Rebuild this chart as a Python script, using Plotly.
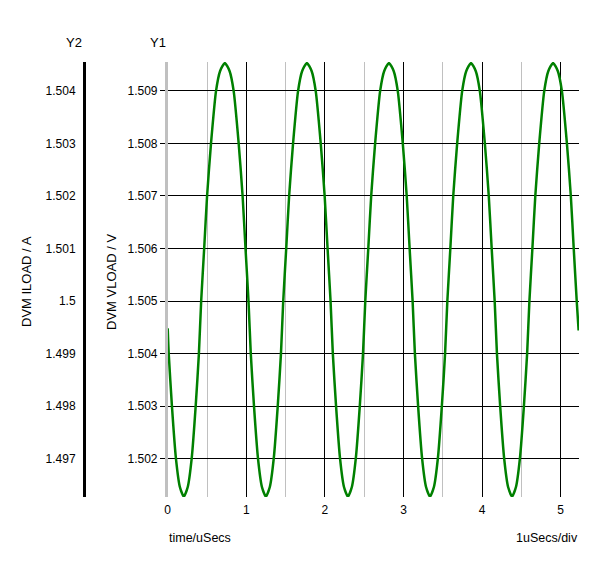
import plotly.graph_objects as go

# ---- data ----
time_us = [
    0.000, 0.013, 0.054, 0.105, 0.155, 0.205,
    0.255, 0.305, 0.356, 0.397, 0.426, 0.464, 0.501, 0.551, 0.615, 0.667,
    0.727, 0.787, 0.839, 0.903, 0.953, 0.990, 1.028, 1.057, 1.098, 1.149, 1.199,
    1.249, 1.299, 1.349, 1.400, 1.441, 1.470, 1.508, 1.545, 1.595, 1.659, 1.711,
    1.771, 1.831, 1.883, 1.947, 1.997, 2.034, 2.072, 2.101, 2.142, 2.193, 2.243,
    2.293, 2.343, 2.393, 2.444, 2.485, 2.514, 2.552, 2.589, 2.639, 2.703, 2.755,
    2.815, 2.875, 2.927, 2.991, 3.041, 3.078, 3.116, 3.145, 3.186, 3.237, 3.287,
    3.337, 3.387, 3.437, 3.488, 3.529, 3.558, 3.596, 3.633, 3.683, 3.747, 3.799,
    3.859, 3.919, 3.971, 4.035, 4.085, 4.122, 4.160, 4.189, 4.230, 4.281, 4.331,
    4.381, 4.431, 4.481, 4.532, 4.573, 4.602, 4.640, 4.677, 4.727, 4.791, 4.843,
    4.903, 4.963, 5.015, 5.079, 5.129, 5.166, 5.204, 5.228,
]
vload_v = [
    1.50448, 1.50400, 1.50300, 1.50200, 1.50146, 1.50128,
    1.50146, 1.50200, 1.50300, 1.50400, 1.50500, 1.50600, 1.50700, 1.50800, 1.50900, 1.50938,
    1.50953, 1.50938, 1.50900, 1.50800, 1.50700, 1.50600, 1.50500, 1.50400, 1.50300, 1.50200, 1.50146,
    1.50128, 1.50146, 1.50200, 1.50300, 1.50400, 1.50500, 1.50600, 1.50700, 1.50800, 1.50900, 1.50938,
    1.50953, 1.50938, 1.50900, 1.50800, 1.50700, 1.50600, 1.50500, 1.50400, 1.50300, 1.50200, 1.50146,
    1.50128, 1.50146, 1.50200, 1.50300, 1.50400, 1.50500, 1.50600, 1.50700, 1.50800, 1.50900, 1.50938,
    1.50953, 1.50938, 1.50900, 1.50800, 1.50700, 1.50600, 1.50500, 1.50400, 1.50300, 1.50200, 1.50146,
    1.50128, 1.50146, 1.50200, 1.50300, 1.50400, 1.50500, 1.50600, 1.50700, 1.50800, 1.50900, 1.50938,
    1.50953, 1.50938, 1.50900, 1.50800, 1.50700, 1.50600, 1.50500, 1.50400, 1.50300, 1.50200, 1.50146,
    1.50128, 1.50146, 1.50200, 1.50300, 1.50400, 1.50500, 1.50600, 1.50700, 1.50800, 1.50900, 1.50938,
    1.50953, 1.50938, 1.50900, 1.50800, 1.50700, 1.50600, 1.50500, 1.50444,
]

x_ticks = [0, 1, 2, 3, 4, 5]
x_tick_labels = ["0", "1", "2", "3", "4", "5"]
y1_ticks = [1.502, 1.503, 1.504, 1.505, 1.506, 1.507, 1.508, 1.509]
y1_tick_labels = ["1.502", "1.503", "1.504", "1.505", "1.506", "1.507", "1.508", "1.509"]
y2_ticks = [1.497, 1.498, 1.499, 1.500, 1.501, 1.502, 1.503, 1.504]
y2_tick_labels = ["1.497", "1.498", "1.499", "1.5", "1.501", "1.502", "1.503", "1.504"]

# ---- layout geometry (pixels in the 600x563 window; the page body has an 8px margin) ----
OFF = 8
W, H = 600 - OFF, 563 - OFF
L, R, T, B = 0, 21, 62 - OFF, 66
PW = W - L - R
PH = H - T - B
def px_x(p):
    return (p - OFF - L) / PW
def px_y(p):
    return (H - B - (p - OFF)) / PH

FONT = "Liberation Sans, Arial, sans-serif"

fig = go.Figure()
fig.add_trace(go.Scatter(
    x=time_us, y=vload_v, mode="lines",
    line=dict(color="#008000", width=2.5, shape="spline", smoothing=0.6),
    showlegend=False, hoverinfo="x+y", yaxis="y",
))
fig.add_trace(go.Scatter(
    x=[None], y=[None], mode="lines", yaxis="y2",
    showlegend=False, hoverinfo="skip",
))

fig.update_layout(
    template="none",
    width=W, height=H,
    margin=dict(l=L, r=R, t=T, b=B, pad=0),
    paper_bgcolor="white", plot_bgcolor="white",
    font=dict(family=FONT, size=12, color="black"),
    showlegend=False,
    xaxis=dict(
        domain=[px_x(167.7), 1.0],
        range=[0, 5.233],
        tickvals=x_ticks, ticktext=x_tick_labels,
        showgrid=True, gridcolor="black", gridwidth=1,
        minor=dict(dtick=0.5, tick0=0, showgrid=True, gridcolor="#c0c0c0", gridwidth=1, ticks=""),
        showline=False, zeroline=False, ticks="", ticklabelstandoff=4,
        automargin=False, tickfont=dict(size=12, color="black"),
    ),
    yaxis=dict(
        range=[1.50127, 1.50955],
        tickvals=y1_ticks, ticktext=y1_tick_labels,
        showgrid=True, gridcolor="black", gridwidth=1,
        showline=True, linecolor="#c0c0c0", linewidth=2.5,
        ticks="outside", ticklen=5, tickcolor="black", tickwidth=1,
        zeroline=False, automargin=False, anchor="x",
        tickfont=dict(size=12, color="black"),
    ),
    yaxis2=dict(
        range=[1.49627, 1.50455],
        tickvals=y2_ticks, ticktext=y2_tick_labels,
        overlaying="y", side="left", anchor="free", position=px_x(84),
        showgrid=False, showline=True, linecolor="black", linewidth=3,
        ticks="", ticklabelstandoff=5,
        zeroline=False, automargin=False,
        tickfont=dict(size=12, color="black"),
    ),
)

annots = [
    dict(text="Y2", x=px_x(74), y=px_y(42), size=13, angle=0),
    dict(text="Y1", x=px_x(158), y=px_y(42), size=13, angle=0),
    dict(text="DVM ILOAD / A", x=px_x(26), y=px_y(282), size=13, angle=-90),
    dict(text="DVM VLOAD / V", x=px_x(111), y=px_y(282), size=13, angle=-90),
    dict(text="time/uSecs", x=px_x(200), y=px_y(538), size=12.5, angle=0),
    dict(text="1uSecs/div", x=px_x(547), y=px_y(538), size=12.5, angle=0),
]
for a in annots:
    fig.add_annotation(
        text=a["text"], x=a["x"], y=a["y"], xref="paper", yref="paper",
        xanchor="center", yanchor="middle", showarrow=False, textangle=a["angle"],
        font=dict(family=FONT, size=a["size"], color="black"),
    )

fig.write_html("out.html")
